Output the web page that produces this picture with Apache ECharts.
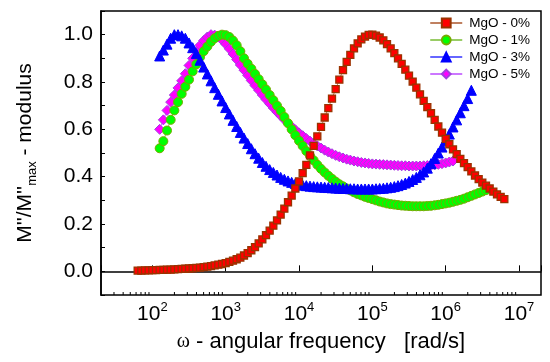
<!DOCTYPE html>
<html><head><meta charset="utf-8">
<script src="https://cdn.jsdelivr.net/npm/echarts@6/dist/echarts.min.js"></script>
<style>html,body{margin:0;padding:0;background:#fff}#c{width:550px;height:362px}</style>
</head><body><div id="c"></div>
<script>
// angular frequency grid [rad/s]
const freq = [63.10, 70.79, 79.43, 89.13,
  100, 112.2, 125.9, 141.3, 158.5, 177.8, 199.5, 223.9, 251.2, 281.8, 316.2, 354.8, 398.1, 446.7, 501.2, 562.3, 631.0, 707.9, 794.3, 891.3,
  1000, 1122, 1259, 1413, 1585, 1778, 1995, 2239, 2512, 2818, 3162, 3548, 3981, 4467, 5012, 5623, 6310, 7079, 7943, 8913,
  10000, 11220, 12590, 14130, 15850, 17780, 19950, 22390, 25120, 28180, 31620, 35480, 39810, 44670, 50120, 56230, 63100, 70790, 79430, 89130,
  100000, 112200, 125900, 141300, 158500, 177800, 199500, 223900, 251200, 281800, 316200, 354800, 398100, 446700, 501200, 562300, 631000, 707900, 794300, 891300,
  1000000, 1122000, 1259000, 1413000, 1585000, 1778000, 1995000, 2239000, 2512000, 2818000, 3162000, 3548000, 3981000, 4467000, 5012000, 5623000, 6310000];

const mgo0 = [0.003, 0.003, 0.004, 0.004,
  0.005, 0.005, 0.006, 0.006, 0.007, 0.007, 0.008, 0.009, 0.010, 0.011, 0.012, 0.013, 0.015, 0.016, 0.018, 0.020, 0.022, 0.025, 0.028, 0.031,
  0.035, 0.040, 0.045, 0.051, 0.058, 0.067, 0.077, 0.089, 0.102, 0.118, 0.135, 0.153, 0.172, 0.193, 0.215, 0.24, 0.265, 0.292, 0.32, 0.35,
  0.38, 0.415, 0.45, 0.49, 0.53, 0.57, 0.61, 0.65, 0.69, 0.73, 0.77, 0.81, 0.85, 0.885, 0.915, 0.942, 0.963, 0.98, 0.992, 0.999,
  1.0, 0.996, 0.988, 0.976, 0.96, 0.942, 0.922, 0.9, 0.877, 0.852, 0.827, 0.802, 0.776, 0.748, 0.72, 0.694, 0.668, 0.64, 0.612, 0.586,
  0.56, 0.537, 0.515, 0.495, 0.475, 0.457, 0.44, 0.422, 0.405, 0.39, 0.375, 0.362, 0.35, 0.337, 0.325, 0.315, 0.305];

const mgo1 = [null, null, null, null, null, null,
  0.52, 0.55, 0.595, 0.64, 0.68, 0.715, 0.75, 0.78, 0.81, 0.845,
  0.875, 0.905, 0.93, 0.95, 0.97, 0.985, 0.995, 1.0, 0.998, 0.99,
  0.975, 0.955, 0.93, 0.90, 0.877, 0.856, 0.834, 0.812, 0.79, 0.768,
  0.745, 0.723, 0.70, 0.678, 0.652, 0.626, 0.60, 0.575, 0.552, 0.53,
  0.508, 0.488, 0.469, 0.45, 0.433, 0.418, 0.404, 0.391, 0.379, 0.368,
  0.359, 0.35, 0.342, 0.334, 0.327, 0.321, 0.315, 0.31, 0.305, 0.30,
  0.295, 0.291, 0.287, 0.284, 0.282, 0.28, 0.278, 0.277, 0.276, 0.275,
  0.275, 0.275, 0.275, 0.276, 0.277, 0.279, 0.281, 0.284, 0.287, 0.29,
  0.294, 0.298, 0.302, 0.307, 0.313, 0.319, 0.325, 0.331, 0.337, 0.343];

const mgo3 = [null, null, null, null, null, null,
  0.91, 0.935, 0.96, 0.985, 1.0, 1.0, 0.995, 0.985, 0.965, 0.945,
  0.92, 0.892, 0.863, 0.834, 0.805, 0.776, 0.748, 0.72, 0.692, 0.665,
  0.638, 0.612, 0.587, 0.563, 0.54, 0.518, 0.497, 0.478, 0.46, 0.444,
  0.43, 0.418, 0.407, 0.397, 0.389, 0.382, 0.376, 0.371, 0.367, 0.364,
  0.362, 0.36, 0.358, 0.357, 0.356, 0.355, 0.354, 0.353, 0.352, 0.351,
  0.35, 0.35, 0.349, 0.349, 0.348, 0.348, 0.348, 0.348, 0.348, 0.349,
  0.35, 0.351, 0.353, 0.355, 0.358, 0.362, 0.367, 0.373, 0.38, 0.388,
  0.397, 0.408, 0.42, 0.436, 0.455, 0.477, 0.50, 0.525, 0.552, 0.58,
  0.61, 0.64, 0.67, 0.70, 0.73, 0.765];

const mgo5 = [null, null, null, null, null, null,
  0.60, 0.64, 0.68, 0.715, 0.745, 0.775, 0.805, 0.835, 0.87, 0.90,
  0.93, 0.955, 0.975, 0.99, 1.0, 0.998, 0.99, 0.977, 0.96, 0.94,
  0.918, 0.895, 0.872, 0.85, 0.828, 0.806, 0.785, 0.765, 0.745, 0.726,
  0.708, 0.69, 0.673, 0.657, 0.641, 0.626, 0.612, 0.598, 0.585, 0.573,
  0.561, 0.55, 0.54, 0.53, 0.521, 0.512, 0.504, 0.497, 0.49, 0.484,
  0.479, 0.474, 0.47, 0.466, 0.463, 0.46, 0.458, 0.456, 0.454, 0.453,
  0.452, 0.451, 0.45, 0.449, 0.448, 0.447, 0.446, 0.446, 0.445, 0.445,
  0.445, 0.445, 0.446, 0.447, 0.448, 0.45, 0.452, 0.455, 0.458, 0.462,
  0.466];

const seriesNames = ['MgO - 0%', 'MgO - 1%', 'MgO - 3%', 'MgO - 5%'];
const yTickLabels = ['0.0', '0.2', '0.4', '0.6', '0.8', '1.0'];
const xMinorTicks = [30, 40, 50, 60, 70, 80, 90,
  200, 300, 400, 500, 600, 700, 800, 900,
  2000, 3000, 4000, 5000, 6000, 7000, 8000, 9000,
  20000, 30000, 40000, 50000, 60000, 70000, 80000, 90000,
  200000, 300000, 400000, 500000, 600000, 700000, 800000, 900000,
  2000000, 3000000, 4000000, 5000000, 6000000, 7000000, 8000000, 9000000];

const X_MIN = 19.95, X_MAX = 19952623;
const Y_MIN = -0.1, Y_MAX = 1.1;
const FONT = 'Liberation Sans, Arial, sans-serif';

function pairs(vals) {
  const out = [];
  freq.forEach((f, i) => { if (vals[i] != null) out.push([f, vals[i]]); });
  return out;
}

const chart = echarts.init(document.getElementById('c'), null, {renderer: 'canvas'});

function mk(name, vals, symbol, size, fill, border, bw, lineColor, z) {
  return {
    name, type: 'line', data: pairs(vals), symbol, symbolSize: size, showSymbol: true,
    lineStyle: {color: lineColor, width: 1},
    itemStyle: {color: fill, borderColor: border, borderWidth: bw},
    emphasis: {disabled: true}, z, clip: true
  };
}

chart.setOption({
  animation: false,
  backgroundColor: '#fff',
  textStyle: {fontFamily: FONT},
  grid: {left: 101, right: 9, top: 11, bottom: 67, show: true, borderColor: '#000', borderWidth: 1.5, backgroundColor: 'transparent'},
  legend: {
    data: seriesNames, orient: 'vertical', right: 20, top: 16, padding: 0,
    itemWidth: 32, itemHeight: 11, itemGap: 3,
    textStyle: {fontFamily: FONT, fontSize: 13.5, color: '#000', lineHeight: 14, padding: [0, 0, 0, 2]}
  },
  xAxis: {
    type: 'log', logBase: 10, min: X_MIN, max: X_MAX,
    axisLine: {show: true, lineStyle: {color: '#000', width: 1.5}},
    axisTick: {show: true, inside: true, length: 6, lineStyle: {color: '#000', width: 1}},
    splitLine: {show: false},
    axisLabel: {
      margin: 6, color: '#000',
      formatter: v => {
        const e = Math.log10(v);
        if (Math.abs(e - Math.round(e)) > 1e-6) return '';
        return '{b|10}{s|' + Math.round(e) + '}';
      },
      rich: {
        b: {fontFamily: FONT, fontSize: 21, color: '#000', lineHeight: 26},
        s: {fontFamily: FONT, fontSize: 13, color: '#000', verticalAlign: 'top', lineHeight: 14}
      }
    },
    name: '{w|ω}{t| - angular frequency   [rad/s]}',
    nameLocation: 'middle', nameGap: 36,
    nameTextStyle: {
      rich: {
        w: {fontFamily: 'Liberation Serif, serif', fontSize: 20, color: '#000'},
        t: {fontFamily: FONT, fontSize: 22, color: '#000'}
      }
    }
  },
  yAxis: {
    type: 'value', min: Y_MIN, max: Y_MAX, interval: 0.1,
    axisLine: {show: true, lineStyle: {color: '#000', width: 1.5}},
    axisTick: {show: true, inside: true, length: 4, lineStyle: {color: '#000', width: 1}},
    splitLine: {show: false},
    axisLabel: {
      margin: 8, color: '#000', fontFamily: FONT, fontSize: 21,
      formatter: v => { const s = v.toFixed(1); return yTickLabels.includes(s) ? s : ''; }
    },
    name: "{m|M''/M''}{s|max}{m| - modulus}",
    nameLocation: 'middle', nameGap: 62, nameRotate: 90,
    nameTextStyle: {
      rich: {
        m: {fontFamily: FONT, fontSize: 21, color: '#000', lineHeight: 28},
        s: {fontFamily: FONT, fontSize: 13, color: '#000', verticalAlign: 'bottom', lineHeight: 14}
      }
    }
  },
  series: [
    mk(seriesNames[3], mgo5, 'diamond', 10, '#ff00ff', '#a040e0', 1, '#cc77ff', 2),
    mk(seriesNames[1], mgo1, 'circle', 9, '#00ff00', '#77aa00', 1, '#99cc66', 3),
    mk(seriesNames[2], mgo3, 'triangle', 10, '#0000ff', '#0000ff', 1, '#6666ff', 4),
    mk(seriesNames[0], mgo0, 'rect', 7, '#ff0000', '#993300', 1.3, '#c08060', 5),
    {
      type: 'custom', silent: true, z: 10,
      data: xMinorTicks.map(v => [v]),
      encode: {x: 0},
      renderItem: (params, api) => {
        const p = api.coord([api.value(0), Y_MIN]);
        return {type: 'line', shape: {x1: p[0], y1: p[1], x2: p[0], y2: p[1] - 3}, style: {stroke: '#000', lineWidth: 1}};
      }
    }
  ]
});
</script></body></html>
